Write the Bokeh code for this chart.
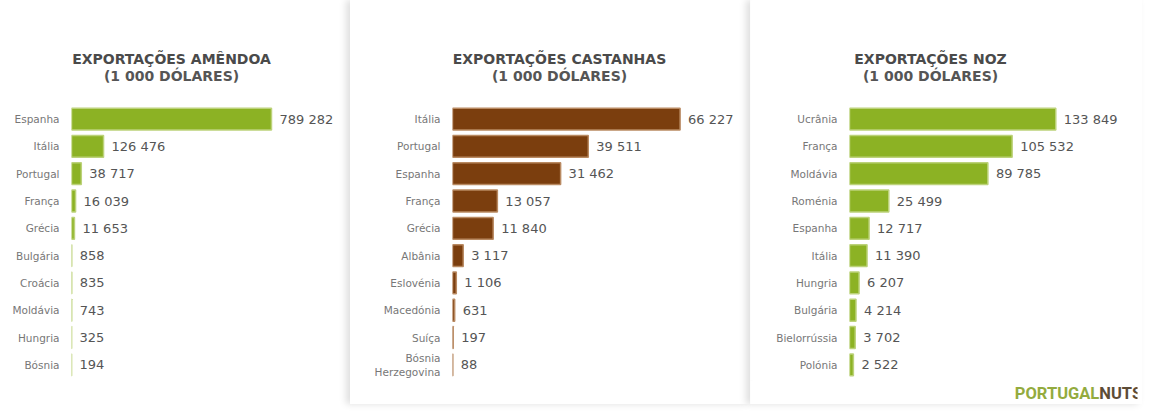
from bokeh.plotting import figure
from bokeh.layouts import row, column
from bokeh.models import ColumnDataSource, FactorRange, Range1d, LabelSet
from bokeh.core.properties import value
from bokeh.embed import file_html
from bokeh.resources import INLINE

# ---------------- data ----------------
amendoa_countries = ["Espanha", "Itália", "Portugal", "França", "Grécia", "Bulgária",
                     "Croácia", "Moldávia", "Hungria", "Bósnia"]
amendoa_values = [789282, 126476, 38717, 16039, 11653, 858, 835, 743, 325, 194]

castanha_countries = ["Itália", "Portugal", "Espanha", "França", "Grécia", "Albânia",
                      "Eslovénia", "Macedónia", "Suíça", "Bósnia\nHerzegovina"]
castanha_values = [66227, 39511, 31462, 13057, 11840, 3117, 1106, 631, 197, 88]

noz_countries = ["Ucrânia", "França", "Moldávia", "Roménia", "Espanha", "Itália",
                 "Hungria", "Bulgária", "Bielorrússia", "Polónia"]
noz_values = [133849, 105532, 89785, 25499, 12717, 11390, 6207, 4214, 3702, 2522]

titles = ["EXPORTAÇÕES AMÊNDOA", "EXPORTAÇÕES CASTANHAS", "EXPORTAÇÕES NOZ"]
subtitle = "(1 000 DÓLARES)"
logo_words = ["PORTUGAL", "NUTS"]

GREEN = "#8cb224"
GREEN_EDGE = "#bcd27a"
BROWN = "#7b3e0e"
BROWN_EDGE = "#b98a62"
FONT = "DejaVu Sans"
BLANK = [" ", "  ", "   "]   # empty rows above the bars that hold the titles


def fmt(v):
    return f"{v:,}".replace(",", " ")


def panel(countries, values, title, width, height, border_left, border_bottom, x_end,
          color, edge, title_center):
    src = ColumnDataSource(dict(country=countries, value=values,
                                label=[fmt(v) for v in values]))
    factors = countries[::-1] + BLANK
    p = figure(width=width, height=height, y_range=FactorRange(factors=factors),
               x_range=Range1d(0, x_end), output_backend="svg", toolbar_location=None,
               title=None, min_border_left=border_left, min_border_right=5,
               min_border_top=23, min_border_bottom=border_bottom)
    p.hbar(y="country", right="value", height=0.8, source=src, fill_color=color,
           line_color=edge, line_width=1.5)
    labels = LabelSet(x="value", y="country", text="label", source=src, x_offset=8,
                      text_baseline="middle", text_font_size="13px",
                      text_color="#555555", text_font=value(FONT))
    p.add_layout(labels)
    # two-line title, centred above the bars
    p.text(x=[0, 0], y=[BLANK[1], BLANK[1]], text=[title, subtitle],
           x_offset=title_center, y_offset=[-5, 12], text_align="center",
           text_baseline="middle", text_font=value(FONT), text_font_style="bold",
           text_font_size="14px", text_color=["#4a4a4a", "#555555"])
    p.xaxis.visible = False
    p.xgrid.visible = False
    p.ygrid.visible = False
    p.outline_line_color = None
    ax = p.yaxis[0]
    ax.axis_line_color = None
    ax.major_tick_line_color = None
    ax.minor_tick_line_color = None
    ax.major_tick_out = 0
    ax.major_label_standoff = 12
    ax.major_label_text_font_size = "10.5px"
    ax.major_label_text_color = "#777777"
    ax.major_label_text_font = FONT
    return p


p1 = panel(amendoa_countries, amendoa_values, titles[0], 350, 404, 71, 26, 1081300,
           GREEN, GREEN_EDGE, 100)
p2 = panel(castanha_countries, castanha_values, titles[1], 400, 404, 102, 26, 85260,
           BROWN, BROWN_EDGE, 107)
p3 = panel(noz_countries, noz_values, titles[2], 392, 380, 99, 2, 186860,
           GREEN, GREEN_EDGE, 81)

# logo strip under the third panel
logo = figure(width=392, height=24, x_range=Range1d(0, 392), y_range=Range1d(0, 24),
              output_backend="svg", toolbar_location=None, min_border=0)
logo.axis.visible = False
logo.grid.visible = False
logo.outline_line_color = None
logo.text(x=[340], y=[2], text=[logo_words[0]], text_baseline="bottom", text_align="right",
          text_font=value("Roboto"), text_font_style="bold",
          text_font_size="16.5px", text_color="#93ab3e")
logo.text(x=[340], y=[2], text=[logo_words[1]], text_baseline="bottom", text_align="left",
          text_font=value("Roboto"), text_font_style="bold",
          text_font_size="16.5px", text_color="#5d4c36")

p2.styles = {"box-shadow": "-4px 0px 7px rgba(0,0,0,0.13)"}
right_col = column(p3, logo, spacing=0)
right_col.styles = {"box-shadow": "-4px 0px 7px rgba(0,0,0,0.13)"}

layout = row(p1, p2, right_col, spacing=0)
open("out.html", "w").write(file_html(layout, INLINE))
